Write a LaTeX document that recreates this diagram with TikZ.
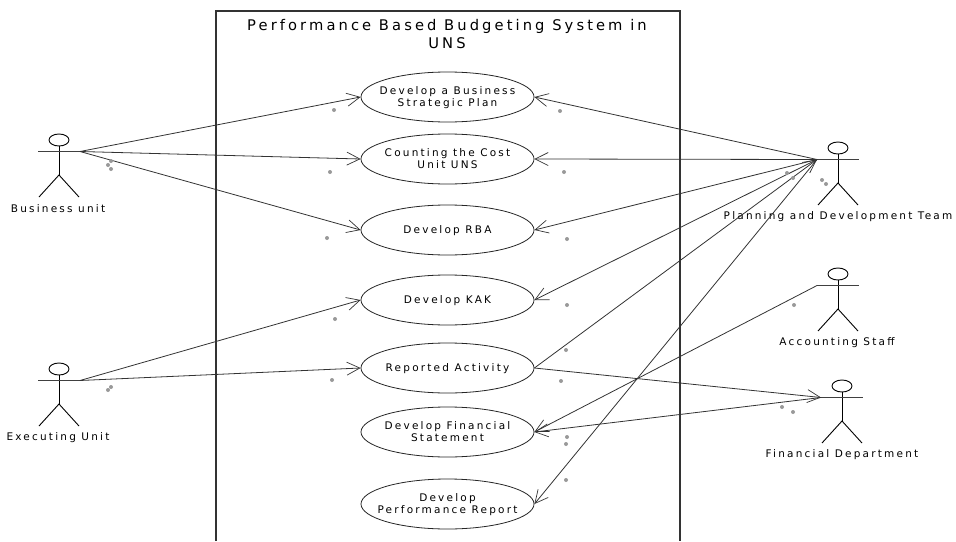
\documentclass[tikz,border=0pt]{standalone}
\usepackage{fontspec}
\setmainfont[LetterSpace=21]{DejaVu Sans}
\usetikzlibrary{arrows.meta, shapes.geometric}

\tikzset{
	usecase/.style={draw=black!85, ellipse, line width=0.8pt, minimum width=173pt, minimum height=50pt, inner xsep=-25pt, inner ysep=0pt, align=center, text depth=0pt, font=\fontsize{10.5}{12}\selectfont},
	actorlabel/.style={font=\fontsize{10.5}{12}\selectfont},
	assoc/.style={draw=black!80, line width=0.8pt},
	opentip/.style={-{Straight Barb[length=13pt,width=13pt,line width=0.7pt]}},
	limb/.style={draw=black, line width=0.9pt},
	multdot/.style={circle, fill=black!40, inner sep=0pt, minimum size=4pt}
}

\begin{document}
\begin{tikzpicture}[x=1pt, y=-1pt]
	\useasboundingbox (0,0) rectangle (956,541);

	% system boundary
	\draw [draw=black!80, line width=1.3pt] (216,541) -- (216,11) -- (680,11) -- (680,541);
	\node (title) [align=center, font=\fontsize{14.7}{18}\selectfont] at (447,34) {Performance Based Budgeting System in\\UNS};

	% use cases
	\node (plan) [usecase] at (447.5,97) {Develop a Business\\Strategic Plan};
	\node (cost) [usecase] at (447.5,159) {Counting the Cost\\Unit UNS};
	\node (rba) [usecase] at (447.5,230) {Develop RBA};
	\node (kak) [usecase] at (447.5,300) {Develop KAK};
	\node (activity) [usecase] at (447.5,368) {Reported Activity};
	\node (statement) [usecase] at (447.5,432) {Develop Financial\\Statement};
	\node (report) [usecase] at (447.5,504) {Develop\\Performance Report};

	% actors
	\foreach \id/\x/\y/\name/\lx in {business/59/140/Business unit/58, executing/59/369/Executing Unit/58, planning/838/148/Planning and Development Team/838, accounting/838/274/Accounting Staff/837, financial/842/386/Financial Department/842}
	{
		\draw [limb] (\x,\y) ellipse (10pt and 6pt);
		\draw [limb] (\x,\y+6) -- (\x,\y+35);
		\draw [limb] (\x-20,\y+57) -- (\x,\y+35) -- (\x+20,\y+57);
		\draw [limb, draw=black!75] (\x-21,\y+11.5) -- (\x+21,\y+11.5);
		\coordinate (\id-l) at (\x-21,\y+11.5);
		\coordinate (\id-r) at (\x+21,\y+11.5);
		\node (\id-name) [actorlabel] at (\lx,\y+68.5) {\name};
	}

	% associations
	\foreach \a/\b in {business-r/plan.west, business-r/cost.west, business-r/rba.west, executing-r/kak.west, executing-r/activity.west, planning-l/plan.east, planning-l/cost.east, planning-l/rba.east, planning-l/kak.east, planning-l/report.east, accounting-l/statement.east, financial-l/statement.east, activity.east/planning-l, activity.east/financial-l}
	\draw [assoc, opentip] (\a) -- (\b);

	% multiplicity marks
	\foreach \x/\y [count=\i] in {111/161, 108/165, 111/169, 334/110, 330/172, 327/238, 335/319, 332/380, 111/387, 108/390, 560/111, 564/172, 567/239, 567/305, 566/350, 561/381, 567/437, 566/444, 566/480, 787/173, 793/178, 822/180, 826/184, 794/305, 782/407, 793/412}
	\node (mult\i) [multdot] at (\x,\y) {};
\end{tikzpicture}
\end{document}
